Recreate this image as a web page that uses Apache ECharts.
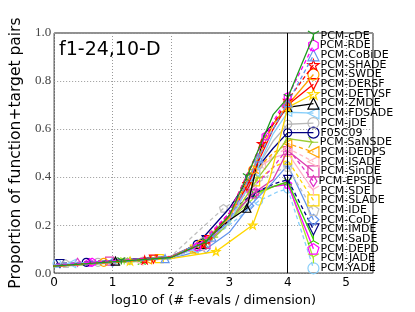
<!DOCTYPE html>
<html><head><meta charset="utf-8">
<script src="https://cdn.jsdelivr.net/npm/echarts@6/dist/echarts.min.js"></script>
<style>html,body{margin:0;padding:0;background:#fff}#c{width:415px;height:312px}</style>
</head><body><div id="c"></div>
<script>
// ---- data ----
const seriesNames = ["PCM-cDE","PCM-RDE","PCM-CoBiDE","PCM-SHADE","PCM-SWDE","PCM-DERSF","PCM-DETVSF","PCM-ZMDE","PCM-FDSADE","PCM-jDE","F05C09","PCM-SaNSDE","PCM-DEDPS","PCM-ISADE","PCM-SinDE","PCM-EPSDE","PCM-SDE","PCM-SLADE","PCM-IDE","PCM-CoDE","PCM-IMDE","PCM-SaDE","PCM-DEPD","PCM-JADE","PCM-YADE"];
const xTicks = [0,1,2,3,4,5];
const yTicks = [0,0.2,0.4,0.6,0.8,1.0];
const budgetLog = 4;
const legendX = 4.44;
const legendY = [0.988,0.948,0.907,0.867,0.827,0.787,0.746,0.706,0.666,0.625,0.585,0.545,0.504,0.464,0.424,0.383,0.343,0.303,0.262,0.222,0.182,0.141,0.101,0.061,0.020];
const cDE    = [[-0.8,.015],[1.15,.05],[2,.065],[2.6,.13],[3,.24],[3.3,.40],[3.75,.66],[4,.73]];
const RDE    = [[-0.8,.015],[0.65,.045],[2,.066],[2.45,.11],[3,.25],[3.62,.57],[3.75,.63],[4,.735]];
const CoBiDE = [[-0.8,.015],[1.9,.06],[2,.065],[2.7,.15],[3,.22],[3.5,.48],[3.75,.60],[4,.71]];
const SHADE  = [[-0.8,.015],[1.55,.055],[2,.068],[2.55,.12],[3,.25],[3.55,.54],[3.75,.62],[4,.72]];
const SWDE   = [[-0.8,.015],[0.85,.045],[2,.066],[2.5,.12],[3,.23],[3.4,.43],[3.75,.62],[4,.70]];
const DERSF  = [[-0.8,.015],[1.7,.058],[2,.067],[2.65,.14],[3,.24],[3.3,.36],[3.75,.60],[4,.70]];
const DETVSF = [[-0.8,.015],[1.3,.05],[2,.06],[2.77,.09],[3,.13],[3.4,.20],[3.7,.40],[4,.69]];
const ZMDE   = [[-0.8,.015],[1.05,.05],[2,.065],[2.5,.12],[3,.22],[3.3,.27],[3.6,.58],[4,.69]];
const FDSADE = [[-0.8,.015],[0.3,.04],[2,.064],[2.4,.10],[3,.21],[3.45,.42],[3.75,.58],[4,.67]];
const jDE    = [[-0.8,.015],[0.75,.045],[2,.07],[2.55,.13],[3,.24],[3.5,.45],[3.75,.55],[4,.62]];
const F05C09 = [[-0.8,.015],[0.55,.045],[2,.07],[2.45,.12],[3,.27],[3.35,.40],[3.75,.52],[4,.585]];
const SaNSDE = [[-0.8,.015],[1.35,.05],[2,.065],[2.75,.15],[3,.21],[3.5,.40],[3.75,.48],[4,.56]];
const DEDPS  = [[-0.8,.015],[1.6,.055],[2,.066],[2.35,.10],[3,.24],[3.45,.43],[3.75,.50],[4,.54]];
const ISADE  = [[-0.8,.015],[1.45,.05],[2,.066],[2.5,.11],[3,.22],[3.55,.45],[3.75,.49],[4,.52]];
const SinDE  = [[-0.8,.015],[0.95,.05],[2,.065],[2.6,.12],[3,.22],[3.4,.33],[3.75,.39],[4,.51]];
const EPSDE  = [[-0.8,.015],[0.4,.045],[2,.066],[2.55,.12],[3,.25],[3.15,.30],[3.75,.44],[4,.52]];
const SDE    = [[-0.8,.015],[1.25,.05],[2,.066],[2.7,.14],[3,.23],[3.5,.44],[3.75,.48],[4,.50]];
const SLADE  = [[-0.8,.015],[1.8,.06],[2,.065],[2.4,.10],[3,.21],[3.45,.38],[3.75,.44],[4,.47]];
const IDE    = [[-0.8,.015],[0.2,.04],[2,.07],[2.9,.27],[3.1,.30],[3.4,.36],[3.75,.42],[4,.44]];
const CoDE   = [[-0.8,.015],[1.0,.045],[2,.06],[2.6,.10],[3,.17],[3.35,.28],[3.75,.38],[4,.45]];
const IMDE   = [[-0.8,.015],[0.1,.04],[2,.065],[2.6,.14],[3,.25],[3.4,.33],[3.75,.37],[4,.39]];
const SaDE   = [[-0.8,.015],[1.5,.05],[2,.066],[2.55,.12],[3,.22],[3.4,.33],[3.75,.36],[4,.38]];
const DEPD   = [[-0.8,.015],[0.6,.045],[2,.066],[2.45,.11],[3,.23],[3.45,.34],[3.75,.36],[4,.37]];
const JADE   = [[-0.8,.015],[1.2,.05],[2,.066],[2.65,.13],[3,.22],[3.5,.33],[3.75,.36],[4,.38]];
const YADE   = [[-0.8,.015],[0.05,.04],[2,.06],[2.5,.11],[3,.20],[3.5,.30],[3.84,.34],[4,.35]];
const curves = [cDE,RDE,CoBiDE,SHADE,SWDE,DERSF,DETVSF,ZMDE,FDSADE,jDE,F05C09,SaNSDE,DEDPS,ISADE,SinDE,EPSDE,SDE,SLADE,IDE,CoDE,IMDE,SaDE,DEPD,JADE,YADE];

// ---- styles ----
const SYM = {
  star: 'path://M5,0 L6.2,3.6 L10,3.6 L6.9,5.9 L8.1,9.5 L5,7.3 L1.9,9.5 L3.1,5.9 L0,3.6 L3.8,3.6 Z',
  hex: 'path://M5,0 L9.33,2.5 L9.33,7.5 L5,10 L0.67,7.5 L0.67,2.5 Z',
  pent: 'path://M5,0 L10,3.6 L8.1,9.5 L1.9,9.5 L0,3.6 Z',
  tdown: 'path://M0,0 L10,0 L5,10 Z',
  tleft: 'path://M10,0 L10,10 L0,5 Z',
  tri1: 'path://M5,5 L5,10 M5,5 L0.7,2.5 M5,5 L9.3,2.5',
  tri2: 'path://M5,5 L5,0 M5,5 L0.7,7.5 M5,5 L9.3,7.5',
  tri4: 'path://M5,5 L10,5 M5,5 L2.5,0.7 M5,5 L2.5,9.3',
  thind: 'path://M5,0 L8.2,5 L5,10 L1.8,5 Z'
};
const styles = [
  ['#1f9a1f', SYM.tri1, 'solid'],
  ['#ff00ff', SYM.hex, 'dashed'],
  ['#6495ed', 'triangle', 'dashed'],
  ['#ff0000', SYM.star, 'dashed'],
  ['#ffa500', 'circle', 'solid'],
  ['#ff0000', SYM.tdown, 'solid'],
  ['#ffd700', SYM.star, 'solid'],
  ['#000000', 'triangle', 'solid'],
  ['#87cefa', SYM.tleft, 'solid'],
  ['#b8b8b8', 'circle', 'solid'],
  ['#000080', 'circle', 'solid'],
  ['#9acd32', SYM.tri4, 'solid'],
  ['#ffa500', SYM.tleft, 'dashed'],
  ['#ffb6c1', SYM.tleft, 'dashed'],
  ['#dd3fae', 'rect', 'solid'],
  ['#e030c8', SYM.thind, 'dashed'],
  ['#ffb0c8', SYM.tri1, 'solid'],
  ['#ffd700', 'rect', 'dashed'],
  ['#c0c0c0', SYM.pent, 'dashed'],
  ['#6495ed', 'diamond', 'solid'],
  ['#000080', SYM.tdown, 'dashed'],
  ['#3ccf00', SYM.tri2, 'solid'],
  ['#ff00ff', SYM.pent, 'solid'],
  ['#a6e82a', SYM.tri1, 'solid'],
  ['#87cefa', 'circle', 'dashed']
];
const markerIdx = [1,3,5,7,8];

const series = curves.map((pts, k) => {
  const [color, symbol, dash] = styles[k];
  const data = pts.map(p => p.slice());
  data.push({value:[legendX, legendY[k]], symbolSize: 11,
    label:{show:true, position:'right', distance:1, formatter: seriesNames[k],
      color:'#000', fontFamily:'DejaVu Sans', fontSize:11}});
  const s = {
    type:'line', name: seriesNames[k], data, clip:false, z: 2 + (25-k)/100,
    showAllSymbol:true, symbolKeepAspect:true,
    symbol: (v, p) => markerIdx.includes(p.dataIndex) ? symbol : 'none',
    symbolSize: 8,
    lineStyle:{color, width:1.3, type: dash === 'dashed' ? [4,3] : 'solid'},
    itemStyle:{color:'rgba(0,0,0,0)', borderColor: color, borderWidth:1.2},
    emphasis:{disabled:true}, animation:false
  };
  if (k === 0) {
    s.markLine = {silent:true, symbol:['none','none'], label:{show:false},
      lineStyle:{color:'#000', type:'solid', width:1}, data:[{xAxis: budgetLog}]};
  }
  return s;
});

const chart = echarts.init(document.getElementById('c'), null, {renderer:'canvas'});
chart.setOption({
  animation:false,
  backgroundColor:'#fff',
  title:{text:'f1-24,10-D', left:54, top:36, textStyle:{fontFamily:'DejaVu Sans', fontSize:19, fontWeight:'normal', color:'#000'}},
  grid:{left:52, right:42, top:33, bottom:32, show:true, borderColor:'#222', borderWidth:1, backgroundColor:'transparent'},
  xAxis:{type:'value', min:0, max:5.46, interval:1,
    name:'log10 of (# f-evals / dimension)', nameLocation:'middle', nameGap:19,
    nameTextStyle:{fontFamily:'DejaVu Sans', fontSize:13, color:'#000'},
    axisLine:{show:false}, axisTick:{show:false},
    axisLabel:{fontFamily:'DejaVu Sans', fontSize:12, color:'#000', margin:4,
      formatter: v => xTicks.includes(v) ? String(v) : ''},
    splitLine:{show:true, lineStyle:{color:'#999', type:[1,2], width:1}}},
  yAxis:{type:'value', min:0, max:1, interval:0.2,
    name:'Proportion of function+target pairs', nameLocation:'middle', nameGap:25,
    nameTextStyle:{fontFamily:'DejaVu Sans', fontSize:15.5, color:'#000'},
    axisLine:{show:false}, axisTick:{show:false},
    axisLabel:{fontFamily:'Liberation Serif', fontSize:13, color:'#444', margin:3,
      formatter: v => yTicks.some(t => Math.abs(t-v)<1e-9) ? v.toFixed(1) : ''},
    splitLine:{show:true, lineStyle:{color:'#999', type:[1,2], width:1}}},
  series
});
</script></body></html>
